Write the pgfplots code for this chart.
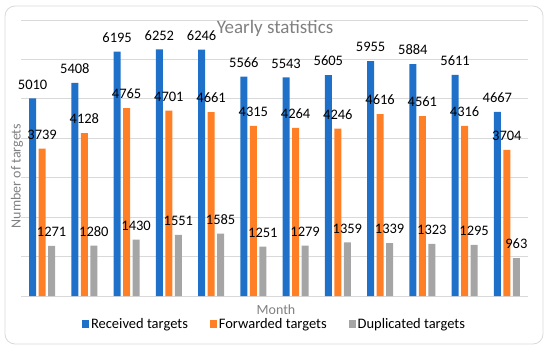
\documentclass[border=0pt]{standalone}
\usepackage{pgfplots}
\pgfplotsset{compat=1.18}
\usepackage{fontspec}
\setmainfont{Carlito}
\definecolor{cblue}{RGB}{30,112,200}
\definecolor{corange}{RGB}{255,127,39}
\definecolor{cgray}{RGB}{165,165,165}
\definecolor{cgrid}{RGB}{217,217,217}
\definecolor{ctext}{RGB}{128,128,128}
\begin{document}
\begin{tikzpicture}[x=1bp,y=1bp]
\path[use as bounding box] (0,0) rectangle (550,352);
\draw[rounded corners=10bp, color=cgrid, line width=0.8bp] (5,8) rectangle (543,346);
\begin{axis}[
  at={(21bp,56bp)}, anchor=south west,
  scale only axis, width=507bp, height=276bp,
  ymin=0, ymax=7000, xmin=-0.5, xmax=11.5,
  ybar=2.5bp, bar width=7bp,
  ytick={0,1000,...,7000}, yticklabels={}, xtick=\empty,
  ymajorgrids, grid style={cgrid, line width=0.8bp},
  axis line style={draw=none}, tick style={draw=none},
  clip=false,
  nodes near coords,
  every node near coord/.append style={font=\fontsize{14.5bp}{16bp}\selectfont, text=black, inner sep=0pt, yshift=9bp,
    /pgf/number format/1000 sep={}, /pgf/number format/assume math mode=true},
  legend columns=3,
  legend style={draw=none, fill=none, at={(0.5,-28bp)}, anchor=center, font=\fontsize{14.5bp}{16bp}\selectfont,
    inner sep=0pt, /tikz/every even column/.append style={column sep=20bp}},
  legend image code/.code={\fill[#1] (0bp,-4bp) rectangle (7bp,4bp);},
]
\addplot[fill=cblue, draw=none] coordinates {(0,5010) (1,5408) (2,6195) (3,6252) (4,6246) (5,5566) (6,5543) (7,5605) (8,5955) (9,5884) (10,5611) (11,4667)};
\addplot[fill=corange, draw=none] coordinates {(0,3739) (1,4128) (2,4765) (3,4701) (4,4661) (5,4315) (6,4264) (7,4246) (8,4616) (9,4561) (10,4316) (11,3704)};
\addplot[fill=cgray, draw=none] coordinates {(0,1271) (1,1280) (2,1430) (3,1551) (4,1585) (5,1251) (6,1279) (7,1359) (8,1339) (9,1323) (10,1295) (11,963)};
\legend{Received targets, Forwarded targets, Duplicated targets}
\end{axis}
\node[text=ctext, font=\fontsize{19bp}{22bp}\selectfont] at (275,324) {Yearly statistics};
\node[text=ctext, font=\fontsize{14bp}{15bp}\selectfont, rotate=90] at (17,176) {Number of targets};
\node[text=ctext, font=\fontsize{14bp}{15bp}\selectfont] at (276,42) {Month};
\end{tikzpicture}
\end{document}
